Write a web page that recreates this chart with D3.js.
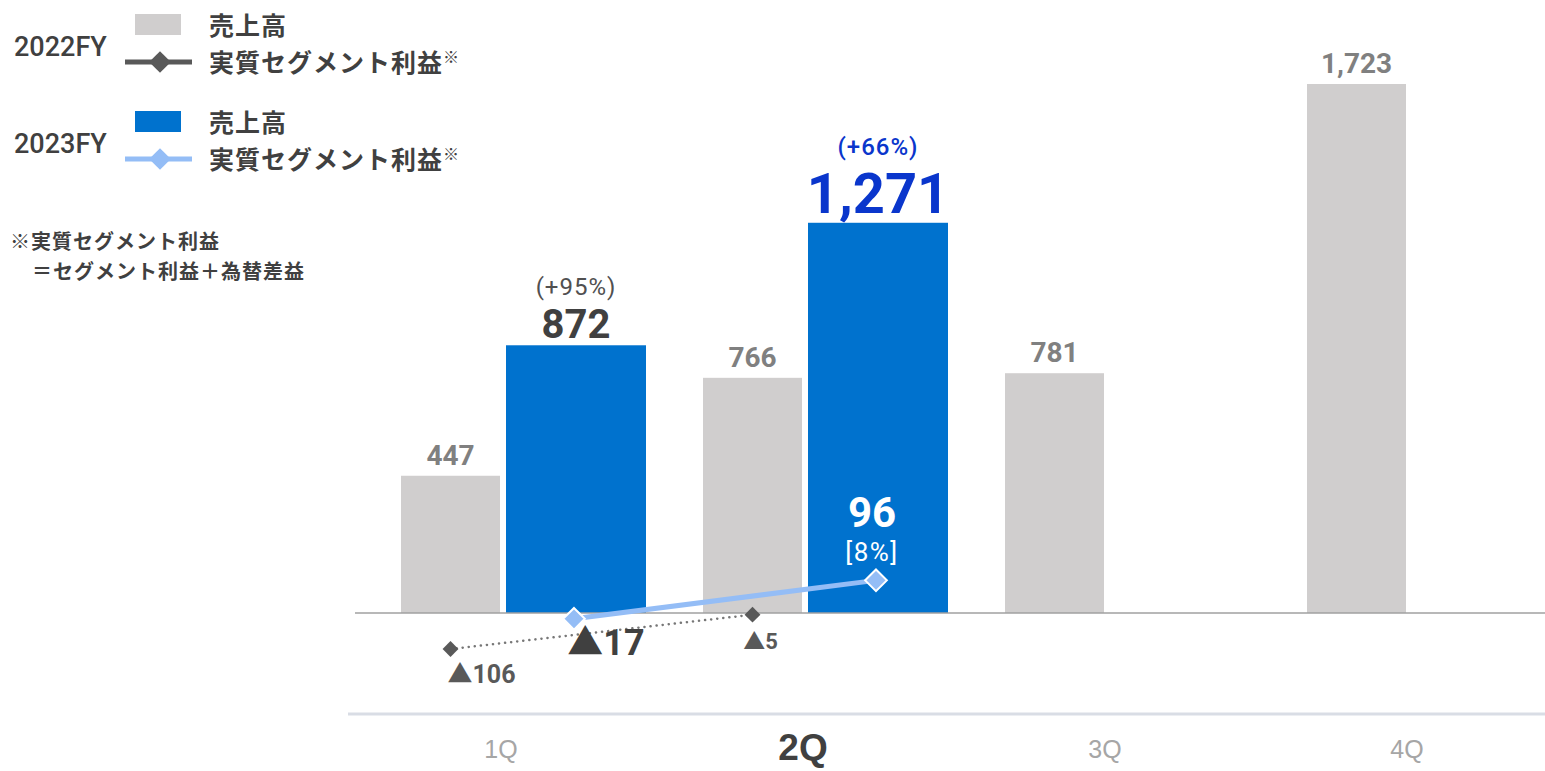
<!DOCTYPE html>
<html lang="ja">
  <head>
    <meta charset="UTF-8"/>
    <title>売上高・実質セグメント利益</title>
    <script src="https://d3js.org/d3.v7.min.js"></script>
    <style>
        body { margin: 0; background: #fff; }
        svg { font-family: Roboto, "Noto Sans CJK JP", sans-serif; font-weight: bold; }
        .jp { font-family: "Noto Sans CJK JP", sans-serif; }
    </style>
  </head>
  <body>
    <script>
        // data
        const quarters = ["1Q", "2Q", "3Q", "4Q"];
        const sales2022 = [447, 766, 781, 1723];
        const sales2023 = [872, 1271];
        const growth2023 = ["(+95%)", "(+66%)"];
        const profit2022 = [-106, -5];
        const profit2023 = [-17, 96];
        const margin2023 = [null, "[8%]"];
        const currentQ = "2Q";

        const W = 1545, H = 771;
        const baseY = 613;

        const fmt = d => d < 0 ? "▲" + d3.format(",")(-d) : d3.format(",")(d);

        const x = d3.scaleBand().domain(quarters).range([350, 1558]);
        const y = d3.scaleLinear().domain([0, 1723]).range([baseY, 84]);
        const y2 = d3.scaleLinear().domain([0, 100]).range([baseY, 579]);

        const grayW = 99, blueW = 140;
        const cx = q => x(q) + x.bandwidth() / 2;
        const grayX = q => cx(q) - grayW - 1;
        const blueX = q => cx(q) + 5;

        const svg = d3.select("body").append("svg")
            .attr("width", W).attr("height", H);

        // 2022 bars
        svg.selectAll(".bar22").data(sales2022).join("rect")
            .attr("x", (d, i) => grayX(quarters[i]))
            .attr("y", d => y(d))
            .attr("width", grayW)
            .attr("height", d => baseY - y(d))
            .attr("fill", "#d0cece");

        svg.selectAll(".lab22").data(sales2022).join("text")
            .attr("x", (d, i) => grayX(quarters[i]) + grayW / 2)
            .attr("y", d => y(d) - 11)
            .attr("text-anchor", "middle")
            .attr("font-size", 28)
            .attr("fill", "#808080")
            .text(d => fmt(d));

        // 2023 bars
        svg.selectAll(".bar23").data(sales2023).join("rect")
            .attr("x", (d, i) => blueX(quarters[i]))
            .attr("y", d => y(d))
            .attr("width", blueW)
            .attr("height", d => baseY - y(d))
            .attr("fill", "#0072ce");

        // 2023 value labels: current quarter highlighted
        sales2023.forEach((d, i) => {
            const q = quarters[i];
            const cur = q === currentQ;
            const mx = blueX(q) + blueW / 2;
            svg.append("text")
                .attr("x", mx).attr("y", y(d) - (cur ? 10 : 7))
                .attr("text-anchor", "middle")
                .attr("font-size", cur ? 56 : 40)
                .attr("fill", cur ? "#0a36cc" : "#404040")
                .text(fmt(d));
            svg.append("text")
                .attr("x", mx).attr("y", y(d) - (cur ? 68 : 50))
                .attr("text-anchor", "middle")
                .attr("font-size", 24)
                .attr("letter-spacing", 1)
                .attr("font-weight", cur ? 500 : "normal")
                .attr("fill", cur ? "#0a36cc" : "#505050")
                .text(growth2023[i]);
        });

        // baseline
        svg.append("line")
            .attr("x1", 355).attr("x2", 1545)
            .attr("y1", baseY).attr("y2", baseY)
            .attr("stroke", "#a0a0a0").attr("stroke-width", 1.5);

        // category axis
        const axis = svg.append("g")
            .attr("transform", `translate(0, 714)`)
            .call(d3.axisBottom(x).tickSize(0).tickPadding(20));
        axis.select(".domain")
            .attr("d", "M348,0H1545")
            .attr("stroke", "#d9dde5").attr("stroke-width", 3);
        axis.selectAll(".tick text")
            .attr("font-family", null)
            .attr("font-weight", d => d === currentQ ? "bold" : "normal")
            .attr("font-size", d => d === currentQ ? 37 : 25)
            .attr("fill", d => d === currentQ ? "#404040" : "#a6a6a6")
            .attr("dy", d => d === currentQ ? "0.7em" : "0.95em");

        // profit lines
        const diamond = d3.symbol().type(d3.symbolDiamond2);

        const line22 = d3.line()
            .x((d, i) => grayX(quarters[i]) + grayW / 2)
            .y(d => y2(d));
        svg.append("path").datum(profit2022)
            .attr("d", line22)
            .attr("fill", "none")
            .attr("stroke", "#777")
            .attr("stroke-width", 2.5)
            .attr("stroke-linecap", "round")
            .attr("stroke-dasharray", "0.1 6");
        svg.selectAll(".pt22").data(profit2022).join("path")
            .attr("transform", (d, i) => `translate(${grayX(quarters[i]) + grayW / 2}, ${y2(d)})`)
            .attr("d", diamond.size(160))
            .attr("fill", "#595959");

        const line23 = d3.line()
            .x((d, i) => blueX(quarters[i]) + blueW / 2 - 2)
            .y(d => y2(d));
        svg.append("path").datum(profit2023)
            .attr("d", line23)
            .attr("fill", "none")
            .attr("stroke", "#94bdf6")
            .attr("stroke-width", 5);
        svg.selectAll(".pt23").data(profit2023).join("path")
            .attr("transform", (d, i) => `translate(${blueX(quarters[i]) + blueW / 2 - 2}, ${y2(d)})`)
            .attr("d", diamond.size(300))
            .attr("fill", "#94bdf6")
            .attr("stroke", "#fff")
            .attr("stroke-width", 2);

        // profit labels 2022
        profit2022.forEach((d, i) => {
            const px = grayX(quarters[i]) + grayW / 2;
            svg.append("text")
                .attr("x", px + (i === 0 ? 31 : 8)).attr("y", y2(d) + 34)
                .attr("text-anchor", "middle")
                .attr("font-size", i === 0 ? 25 : 22)
                .attr("fill", "#595959")
                .text(fmt(d));
        });

        // profit labels 2023
        profit2023.forEach((d, i) => {
            const q = quarters[i];
            const px = blueX(q) + blueW / 2 - 2;
            if (d < 0) {
                svg.append("text")
                    .attr("x", px + 32).attr("y", y2(d) + 36)
                    .attr("text-anchor", "middle")
                    .attr("font-size", 36)
                    .attr("fill", "#404040")
                    .text(fmt(d));
            } else {
                svg.append("text")
                    .attr("x", px - 4).attr("y", y2(d) - 53)
                    .attr("text-anchor", "middle")
                    .attr("font-size", 42)
                    .attr("fill", "#fff")
                    .text(fmt(d));
                svg.append("text")
                    .attr("x", px - 4).attr("y", y2(d) - 19)
                    .attr("text-anchor", "middle")
                    .attr("font-size", 26)
                    .attr("letter-spacing", 1.5)
                    .attr("font-weight", "normal")
                    .attr("fill", "#fff")
                    .text(margin2023[i]);
            }
        });

        // legend
        const legend = [
            {fy: "2022FY", bar: "#d0cece", line: "#595959", top: 0},
            {fy: "2023FY", bar: "#0072ce", line: "#94bdf6", top: 97}
        ];
        legend.forEach(l => {
            const g = svg.append("g").attr("transform", `translate(0, ${l.top})`);
            g.append("text").attr("x", 14).attr("y", 56)
                .attr("font-size", 27).attr("font-weight", 500)
                .attr("fill", "#404040").text(l.fy);
            g.append("rect").attr("x", 135).attr("y", 14)
                .attr("width", 46).attr("height", 21).attr("fill", l.bar);
            g.append("text").attr("class", "jp").attr("x", 209).attr("y", 35)
                .attr("font-size", 25).attr("letter-spacing", 1)
                .attr("fill", "#404040").text("売上高");
            g.append("line").attr("x1", 125).attr("x2", 192)
                .attr("y1", 62).attr("y2", 62)
                .attr("stroke", l.line).attr("stroke-width", 5);
            g.append("path").attr("transform", "translate(160, 62)")
                .attr("d", diamond.size(300)).attr("fill", l.line);
            const t = g.append("text").attr("class", "jp").attr("x", 209).attr("y", 72)
                .attr("font-size", 25).attr("letter-spacing", 1)
                .attr("fill", "#404040");
            t.append("tspan").text("実質セグメント利益");
            t.append("tspan").attr("font-size", 16).attr("dy", -9).text("※");
        });

        // footnote
        svg.append("text").attr("class", "jp").attr("x", 10).attr("y", 249)
            .attr("font-size", 20).attr("letter-spacing", 1)
            .attr("fill", "#404040").text("※実質セグメント利益");
        svg.append("text").attr("class", "jp").attr("x", 32).attr("y", 279)
            .attr("font-size", 20).attr("letter-spacing", 1)
            .attr("fill", "#404040").text("＝セグメント利益＋為替差益");
    </script>
  </body>
</html>
